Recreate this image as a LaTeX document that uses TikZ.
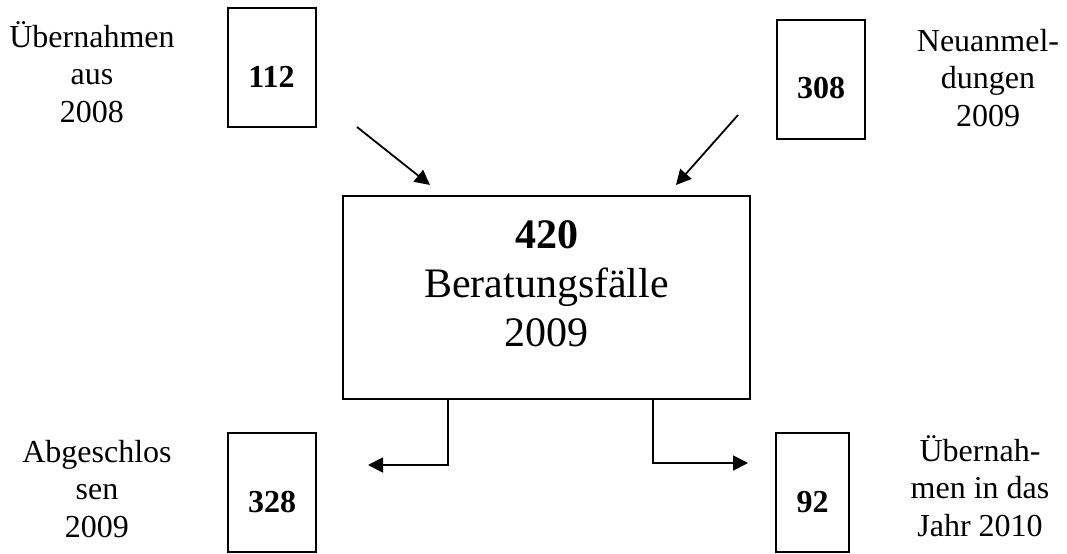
\documentclass[tikz,border=0pt]{standalone}
\usepackage{fontspec}
\setmainfont{Liberation Serif}
\usetikzlibrary{arrows.meta,positioning,calc}

\tikzset{
  numbox/.style={draw, line width=1pt, minimum width=44pt, minimum height=59.5pt,
    inner sep=0pt, text height=20pt, font=\fontsize{16}{19}\selectfont\bfseries},
  caption/.style={align=center, font=\fontsize{16}{18.75}\selectfont},
  flow/.style={line width=0.9pt, -{Triangle[length=7.5pt,width=7.5pt]}}
}

\begin{document}
\begin{tikzpicture}[x=0.5pt,y=-0.5pt]
    \useasboundingbox (0,0) rectangle (1067,553);

    % Zugaenge
    \node[numbox] (n112) at (271.5,67.5) {112};
    \node[numbox] (n308) at (821,79) {308};
    \node[caption] (t112) at (92,72) {Übernahmen\\aus\\2008};
    \node[caption] (t308) at (988,78) {Neuanmel-\\dungen\\2009};

    % Beratungsfaelle
    \node[draw, line width=1pt, minimum width=203.5pt, minimum height=101.5pt] (main) at (546.5,297.5) {};
    \node[align=center, font=\fontsize{21}{24.5}\selectfont] (maintxt) at (546.5,284)
        {\textbf{420}\\Beratungsfälle\\2009};

    % Abgaenge
    \node[numbox] (n328) at (272,492.5) {328};
    \node[numbox, minimum width=36.5pt] (n92) at (812.5,492.5) {92};
    \node[caption] (t328) at (97,489) {Abgeschlos\\sen\\2009};
    \node[caption] (t92) at (980,486) {Übernah-\\men in das\\Jahr 2010};

    % Pfeile
    \coordinate (s112) at (357,127);
    \coordinate (e112) at (430,185);
    \coordinate (s308) at (738,115);
    \coordinate (e308) at (676,185);
    \coordinate (e328) at (368,465);
    \coordinate (e92) at (748,463);

    \draw[flow] (s112) -- (e112);
    \draw[flow] (s308) -- (e308);
    \draw[flow] ([xshift=-49.25pt]main.south) |- (e328);
    \draw[flow] ([xshift=53.25pt]main.south) |- (e92);
\end{tikzpicture}
\end{document}
